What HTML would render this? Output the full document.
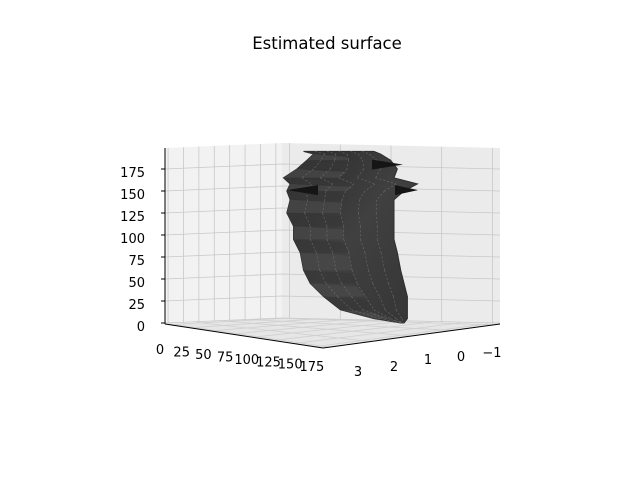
<!DOCTYPE html>
<html><head><meta charset="utf-8"><style>
body{margin:0;background:#fff;}
svg{display:block;font-family:"DejaVu Sans","Liberation Sans",sans-serif;}
</style></head><body>
<svg id="chart" width="640" height="480" viewBox="0 0 640 480">
<rect width="640" height="480" fill="#fff"/>
<text x="327" y="49" font-size="16.5" text-anchor="middle">Estimated surface</text>
<g id="panes"></g>
<g id="grid"></g>
<g id="surface"></g>
<g id="axes"></g>
</svg>
<script>
const zTicks=[0,25,50,75,100,125,150,175];
const xTicks=[0,25,50,75,100,125,150,175];
const yTicks=[3,2,1,0,-1];
const zLevels=[195,192,185,175,165,158,150,140,125,110,95,80,60,45,30,15,5,0];
const leftEdge=[4.7,4.4,4.6,4.9,5.3,5.1,5.2,5.1,5.2,5.0,5.0,4.8,4.7,4.5,4.1,3.6,2.6,1.8];
const rightEdge=[2.6,2.4,2.1,1.9,2.0,1.3,1.7,2.0,2.0,2.0,2.0,1.9,1.8,1.7,1.6,1.6,1.6,1.7];
const spikeZ=[151,151,180];
const spikeTip=[287,418,403];
const spikeBase=[318,395,372];
const NS='http://www.w3.org/2000/svg';
function el(tag,attrs,parent){const e=document.createElementNS(NS,tag);for(const k in attrs)e.setAttribute(k,attrs[k]);parent.appendChild(e);return e;}
const z2py=z=>323-z*(176/200);
const sx=y=>461-y*33.5;
const lerp=(a,b,t)=>[a[0]+(b[0]-a[0])*t,a[1]+(b[1]-a[1])*t];
const A=[165,324],B=[282,318],C=[500,324],D=[323,348];
const panes=document.getElementById('panes'),grid=document.getElementById('grid'),surf=document.getElementById('surface'),axes=document.getElementById('axes');
let p=el('polygon',{points:'165,148 282,143 282,318 165,324',fill:'#f2f2f2'},panes);

p=el('polygon',{points:'282,143 500,148 500,324 282,318',fill:'#ebebeb'},panes);

p=el('polygon',{points:'165,324 282,318 500,324 323,348',fill:'#e6e6e6'},panes);

zTicks.forEach(z=>{const y=z2py(z);
 let l=el('polyline',{points:`165,${y} 282,${y-5} 500,${y}`,fill:'none',stroke:'#c8c8c8','stroke-width':0.8},grid);
 
 let t=el('line',{x1:165,y1:y,x2:161,y2:y,stroke:'#000'},axes);
 
 let tx=el('text',{x:145,y:y+8,'font-size':13,'text-anchor':'end'},axes);tx.textContent=z;
 
});
xTicks.forEach(x=>{const t=(x+5)/190;
 const vx=165+t*117;
 let l=el('line',{x1:vx,y1:148-5*t,x2:vx,y2:324-6*t,stroke:'#c8c8c8','stroke-width':0.8},grid);
 
 const p1=lerp(A,D,t),p2=lerp(B,C,t);
 let f=el('line',{x1:p1[0],y1:p1[1],x2:p2[0],y2:p2[1],stroke:'#d0d0d0','stroke-width':0.8},grid);
 
 let tx=el('text',{x:160+x*0.868,y:354+x*0.098,'font-size':13,'text-anchor':'middle'},axes);tx.textContent=x;
 
});
yTicks.forEach(y=>{const t=(3.15-y)/4.3;
 const px=282+t*218;
 let l=el('line',{x1:px,y1:143+5*t,x2:px,y2:318+6*t,stroke:'#c8c8c8','stroke-width':0.8},grid);
 
 const p1=lerp(D,C,t),p2=lerp(A,B,t);
 let f=el('line',{x1:p1[0],y1:p1[1],x2:p2[0],y2:p2[1],stroke:'#d0d0d0','stroke-width':0.8},grid);
 
 let tx=el('text',{x:[358,394,428,461,492][3-y],y:[376,371,364,361,357][3-y],'font-size':13,'text-anchor':'middle'},axes);
 tx.textContent=y<0?'\u2212'+(-y):y;
 
});
let a=el('line',{x1:165,y1:148,x2:165,y2:324,stroke:'#000','stroke-width':1},axes);

a=el('line',{x1:165,y1:324,x2:323,y2:348,stroke:'#000','stroke-width':1},axes);

a=el('line',{x1:323,y1:348,x2:500,y2:324,stroke:'#000','stroke-width':1},axes);

const defs=el('defs',{},surf);
const g=el('linearGradient',{id:'sg',x1:0,y1:0,x2:1,y2:1},defs);
el('stop',{offset:0,'stop-color':'#2a2a2a'},g);el('stop',{offset:0.5,'stop-color':'#404040'},g);el('stop',{offset:1,'stop-color':'#353535'},g);
let pts=[];
zLevels.forEach((z,i)=>pts.push(sx(leftEdge[i])+','+z2py(z)));
for(let i=zLevels.length-1;i>=0;i--)pts.push(sx(rightEdge[i])+','+z2py(zLevels[i]));
const bp=el('polygon',{points:pts.join(' '),fill:'url(#sg)',stroke:'#2e2e2e','stroke-width':1},surf);

for(let i=0;i<zLevels.length-1;i++){
 const z=zLevels[i],zn=zLevels[i+1];
 const x1=sx(leftEdge[i]),x2=sx(rightEdge[i]),xn1=sx(leftEdge[i+1]),xn2=sx(rightEdge[i+1]);
 const q=el('polygon',{points:`${x1},${z2py(z)} ${(x1+x2)/2},${z2py(z)+3} ${(xn1+xn2)/2},${z2py(zn)} ${xn1},${z2py(zn)}`,fill:i%2?'#4a4a4a':'#383838',opacity:0.7},surf);
 
 for(let k=1;k<6;k++){
  const m=el('line',{x1:x1+(x2-x1)*k/6,y1:z2py(z),x2:xn1+(xn2-xn1)*k/6,y2:z2py(zn),stroke:'#8a8a8a','stroke-width':0.6,'stroke-dasharray':'2,2',opacity:0.6},surf);
  
 }
}
spikeZ.forEach((z,i)=>{const y=z2py(z);
 const sp=el('polygon',{points:`${spikeTip[i]},${y} ${spikeBase[i]},${y-5} ${spikeBase[i]},${y+5}`,fill:'#151515'},surf);
 
});
</script>
</body></html>
